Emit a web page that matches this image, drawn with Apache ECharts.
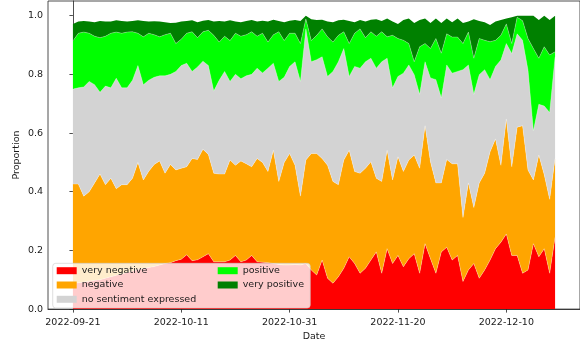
<!DOCTYPE html>
<html>
<head>
<meta charset="utf-8">
<script src="https://cdn.jsdelivr.net/npm/echarts@6/dist/echarts.min.js"></script>
<style>
  html, body { margin: 0; padding: 0; background: #fff; }
  #chart { width: 580px; height: 347px; }
</style>
</head>
<body>
<div id="chart"></div>
<script>
// one point per day from 2022-09-21 (x = days since that date)
const dayCount = 90;
const tickDays = [0, 20, 40, 60, 80];
const tickLabels = ["2022-09-21", "2022-10-11", "2022-10-31", "2022-11-20", "2022-12-10"];
const yTicks = [0, 0.2, 0.4, 0.6, 0.8, 1.0];

const seriesNames = ["very negative", "negative", "no sentiment expressed", "positive", "very positive"];
const seriesColors = ["#ff0000", "#ffa500", "#d3d3d3", "#00ff00", "#008000"];

// proportions
const veryNegative = [
  0.087, 0.090, 0.092, 0.095, 0.098, 0.100, 0.105, 0.110, 0.115, 0.120,
  0.125, 0.130, 0.135, 0.138, 0.142, 0.145, 0.150, 0.155, 0.158, 0.165,
  0.170, 0.185, 0.165, 0.168, 0.178, 0.189, 0.161, 0.161, 0.161, 0.167,
  0.183, 0.161, 0.167, 0.183, 0.161, 0.160, 0.158, 0.155, 0.152, 0.150,
  0.150, 0.152, 0.150, 0.155, 0.133, 0.116, 0.167, 0.105, 0.088, 0.110,
  0.139, 0.178, 0.155, 0.122, 0.139, 0.167, 0.195, 0.122, 0.206, 0.155,
  0.183, 0.144, 0.172, 0.189, 0.122, 0.223, 0.172, 0.122, 0.195, 0.211,
  0.167, 0.183, 0.094, 0.133, 0.155, 0.105, 0.133, 0.167, 0.206, 0.228,
  0.256, 0.183, 0.183, 0.122, 0.133, 0.223, 0.178, 0.206, 0.122, 0.245
];
const negative = [
  0.339, 0.336, 0.293, 0.305, 0.332, 0.360, 0.319, 0.336, 0.295, 0.304,
  0.299, 0.316, 0.365, 0.302, 0.328, 0.348, 0.355, 0.308, 0.335, 0.309,
  0.310, 0.300, 0.348, 0.342, 0.367, 0.338, 0.302, 0.299, 0.299, 0.341,
  0.307, 0.344, 0.328, 0.302, 0.352, 0.340, 0.311, 0.386, 0.283, 0.350,
  0.380, 0.338, 0.235, 0.353, 0.397, 0.414, 0.346, 0.385, 0.347, 0.314,
  0.369, 0.363, 0.314, 0.341, 0.341, 0.335, 0.251, 0.313, 0.335, 0.285,
  0.336, 0.325, 0.336, 0.336, 0.358, 0.402, 0.330, 0.308, 0.235, 0.299,
  0.328, 0.312, 0.218, 0.297, 0.191, 0.325, 0.330, 0.369, 0.374, 0.262,
  0.392, 0.302, 0.437, 0.503, 0.341, 0.217, 0.347, 0.252, 0.252, 0.268
];
const noSentiment = [
  0.324, 0.328, 0.372, 0.376, 0.335, 0.279, 0.336, 0.308, 0.377, 0.330,
  0.330, 0.334, 0.330, 0.325, 0.310, 0.297, 0.290, 0.332, 0.307, 0.336,
  0.350, 0.353, 0.297, 0.315, 0.300, 0.303, 0.280, 0.320, 0.350, 0.268,
  0.310, 0.280, 0.300, 0.315, 0.308, 0.305, 0.352, 0.297, 0.341, 0.290,
  0.297, 0.353, 0.391, 0.447, 0.313, 0.320, 0.347, 0.303, 0.375, 0.419,
  0.380, 0.252, 0.358, 0.358, 0.363, 0.353, 0.375, 0.408, 0.314, 0.314,
  0.274, 0.335, 0.324, 0.274, 0.252, 0.218, 0.286, 0.352, 0.290, 0.322,
  0.309, 0.315, 0.504, 0.402, 0.386, 0.369, 0.353, 0.246, 0.247, 0.359,
  0.257, 0.386, 0.318, 0.291, 0.341, 0.168, 0.173, 0.234, 0.296, 0.347
];
const positive = [
  0.164, 0.186, 0.187, 0.164, 0.165, 0.186, 0.170, 0.186, 0.157, 0.186,
  0.190, 0.165, 0.110, 0.163, 0.160, 0.145, 0.133, 0.140, 0.140, 0.095,
  0.090, 0.102, 0.135, 0.100, 0.100, 0.120, 0.190, 0.130, 0.120, 0.139,
  0.140, 0.145, 0.140, 0.145, 0.109, 0.135, 0.089, 0.097, 0.169, 0.125,
  0.113, 0.097, 0.129, 0.034, 0.072, 0.083, 0.095, 0.135, 0.100, 0.090,
  0.057, 0.112, 0.113, 0.134, 0.082, 0.090, 0.109, 0.102, 0.073, 0.179,
  0.129, 0.112, 0.073, 0.044, 0.162, 0.062, 0.100, 0.140, 0.152, 0.106,
  0.123, 0.117, 0.089, 0.112, 0.123, 0.123, 0.100, 0.129, 0.089, 0.084,
  0.067, 0.034, 0.057, 0.067, 0.107, 0.280, 0.157, 0.202, 0.196, 0.017
];
const veryPositive = [
  0.058, 0.040, 0.038, 0.040, 0.048, 0.057, 0.050, 0.040, 0.040, 0.042,
  0.036, 0.037, 0.044, 0.054, 0.040, 0.046, 0.052, 0.043, 0.035, 0.071,
  0.060, 0.042, 0.039, 0.053, 0.038, 0.035, 0.047, 0.072, 0.050, 0.069,
  0.040, 0.048, 0.047, 0.040, 0.050, 0.043, 0.070, 0.051, 0.037, 0.063,
  0.043, 0.045, 0.077, 0.011, 0.073, 0.052, 0.031, 0.052, 0.068, 0.051,
  0.041, 0.077, 0.038, 0.030, 0.055, 0.041, 0.058, 0.037, 0.062, 0.047,
  0.050, 0.069, 0.085, 0.132, 0.091, 0.085, 0.087, 0.068, 0.103, 0.052,
  0.051, 0.063, 0.070, 0.036, 0.133, 0.060, 0.062, 0.057, 0.064, 0.052,
  0.018, 0.090, 0.005, 0.017, 0.078, 0.112, 0.130, 0.106, 0.119, 0.123
];

const seriesValues = [veryNegative, negative, noSentiment, positive, veryPositive];
const days = [];
for (let i = 0; i < dayCount; i++) days.push(i);

const font = "DejaVu Sans";
const textColor = "#1a1a1a";

const chart = echarts.init(document.getElementById("chart"), null, { renderer: "canvas" });

// value first so the stack runs on the proportion, not on the day
const series = seriesNames.map((name, k) => ({
  name: name,
  type: "line",
  stack: "total",
  symbol: "none",
  color: seriesColors[k],
  itemStyle: { color: seriesColors[k] },
  // faint light seam along each boundary, like the reference
  lineStyle: { width: k === 4 ? 0 : 0.8, color: "rgba(255,255,255,0.35)" },
  areaStyle: { color: seriesColors[k], opacity: 1 },
  emphasis: { disabled: true },
  encode: { x: 1, y: 0 },
  data: days.map((d, i) => [seriesValues[k][i], d]),
}));

const legendBase = {
  orient: "vertical",
  itemWidth: 20,
  itemHeight: 7,
  itemGap: 2.3,
  icon: "rect",
  selectedMode: false,
  itemStyle: { borderWidth: 0 },
  textStyle: { fontFamily: font, fontSize: 9.5, color: textColor, lineHeight: 12 },
};

const option = {
  backgroundColor: "#ffffff",
  animation: false,
  grid: {
    left: 48,
    top: 1,
    width: 534,
    height: 312,
    show: true,
    borderColor: "#222",
    borderWidth: 0.8,
    backgroundColor: "transparent",
  },
  xAxis: {
    type: "value",
    min: -4.6,
    max: 93.6,
    name: "Date",
    nameLocation: "middle",
    nameGap: 21,
    nameTextStyle: { fontFamily: font, fontSize: 9.5, color: textColor },
    axisLine: { lineStyle: { color: "#222", width: 0.8 } },
    axisTick: { length: 3.5, customValues: tickDays, lineStyle: { color: "#222", width: 0.8 } },
    axisLabel: {
      customValues: tickDays,
      margin: 8,
      fontFamily: font,
      fontSize: 9.5,
      color: textColor,
      formatter: (v) => tickLabels[tickDays.indexOf(Math.round(v))] || "",
    },
    splitLine: { show: false },
  },
  yAxis: {
    type: "value",
    min: 0,
    max: 1.05,
    name: "Proportion",
    nameLocation: "middle",
    nameGap: 26,
    nameMoveOverlap: false,
    nameTextStyle: { fontFamily: font, fontSize: 9.5, color: textColor },
    axisLine: { show: true, lineStyle: { color: "#222", width: 0.8 } },
    axisTick: { show: true, length: 3.5, customValues: yTicks, lineStyle: { color: "#222", width: 0.8 } },
    axisLabel: {
      customValues: yTicks,
      margin: 5,
      fontFamily: font,
      fontSize: 9.5,
      color: textColor,
      formatter: (v) => v.toFixed(1),
    },
    splitLine: { show: false },
  },
  legend: [
    // first column also carries the box of the whole legend
    Object.assign({}, legendBase, {
      left: 52.7,
      top: 263.3,
      padding: [1.4, 114, 2.7, 4],
      backgroundColor: "rgba(255,255,255,0.8)",
      borderColor: "rgba(204,204,204,0.8)",
      borderWidth: 0.8,
      borderRadius: 3,
      z: 5,
      data: seriesNames.slice(0, 3),
    }),
    Object.assign({}, legendBase, {
      left: 217.7,
      top: 264.7,
      padding: 0,
      z: 6,
      data: seriesNames.slice(3),
    }),
  ],
  series: series,
};

chart.setOption(option);
</script>
</body>
</html>
